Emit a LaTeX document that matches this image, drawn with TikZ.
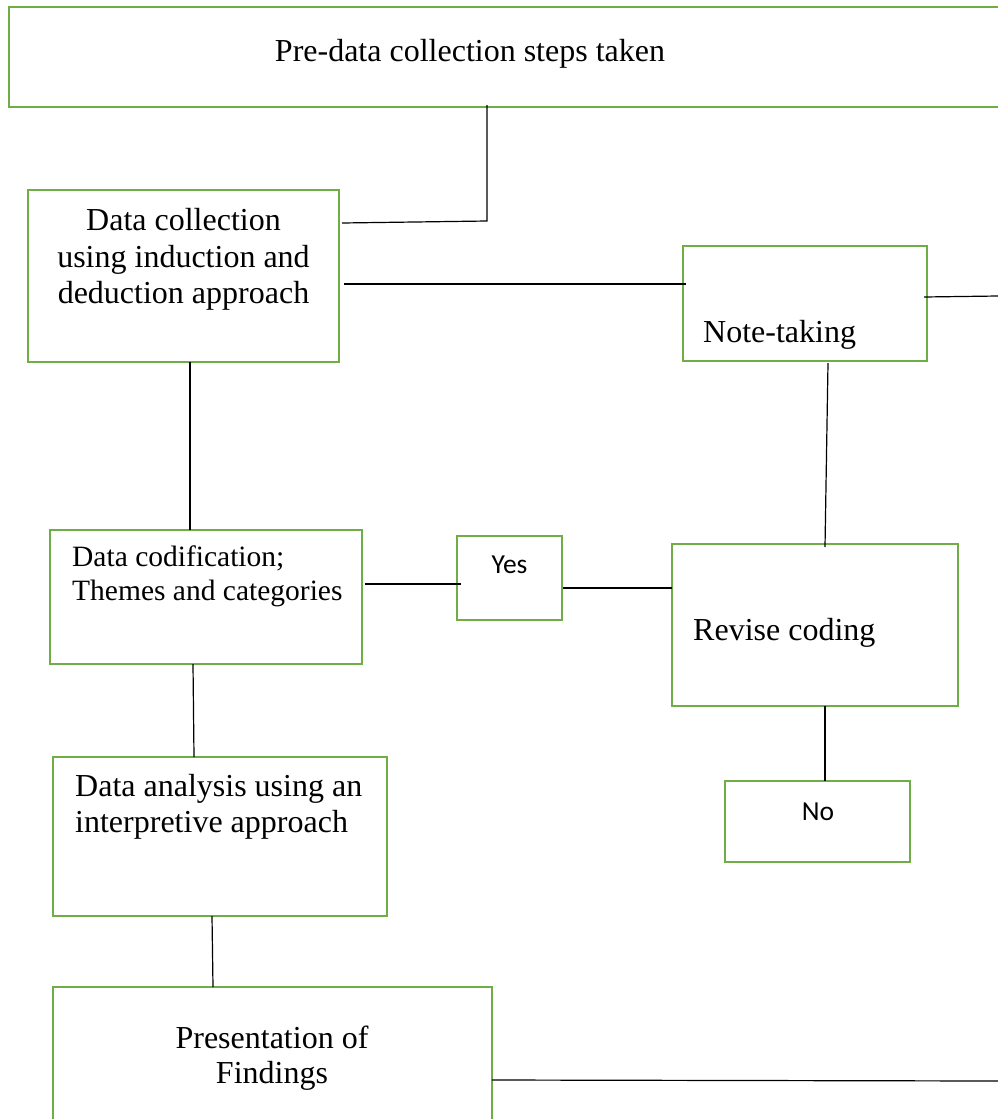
\documentclass[tikz,border=0pt]{standalone}
\usepackage{fontspec}
\setmainfont{Liberation Serif}
\newfontfamily\calibrifont{Carlito}
\usetikzlibrary{calc}
\definecolor{boxgreen}{HTML}{70AD47}
\tikzset{
  box/.style={draw=boxgreen, line width=2.4pt, rectangle, inner sep=0pt, outer sep=0pt, anchor=north west},
  conn/.style={draw=black, line width=1.2pt},
  serifbig/.style={inner sep=0pt, font=\fontsize{32}{36.8}\selectfont},
  serifmid/.style={inner sep=0pt, font=\fontsize{29.5}{35}\selectfont},
  sanslabel/.style={inner sep=0pt, font=\calibrifont\fontsize{27.5}{33}\selectfont}
}
\begin{document}
\begin{tikzpicture}[x=1pt,y=-1pt]
\useasboundingbox (0,0) rectangle (998,1119);
\clip (0,0) rectangle (998,1119);
% boxes
\node[box, minimum width=1011pt, minimum height=100pt] (pre) at (9,7) {};
\node[box, minimum width=311pt, minimum height=172pt] (dc) at (28,190) {};
\node[box, minimum width=244pt, minimum height=115pt] (note) at (683,246) {};
\node[box, minimum width=312pt, minimum height=134pt] (codif) at (50,530) {};
\node[box, minimum width=105pt, minimum height=84pt] (yes) at (457,536) {};
\node[box, minimum width=286pt, minimum height=162pt] (revise) at (672,544) {};
\node[box, minimum width=185pt, minimum height=81pt] (no) at (725,781) {};
\node[box, minimum width=334pt, minimum height=159pt] (ana) at (53,757) {};
\node[box, minimum width=439pt, minimum height=153pt] (pres) at (53,987) {};
% texts
\node[serifbig, anchor=base] (tpre) at (470,61) {Pre-data collection steps taken};
\node[serifbig, anchor=base] (tdc1) at (183.5,230) {Data collection};
\node[serifbig, anchor=base] (tdc2) at (183.5,267) {using induction and};
\node[serifbig, anchor=base] (tdc3) at (183.5,303) {deduction approach};
\node[serifbig, anchor=base west] (tnote) at (703,342) {Note-taking};
\node[serifmid, anchor=base west] (tcod1) at (72,566) {Data codification;};
\node[serifmid, anchor=base west] (tcod2) at (72,600) {Themes and categories};
\node[sanslabel, anchor=base] (tyes) at (509.5,573) {Yes};
\node[serifbig, anchor=base west] (trev) at (693,640) {Revise coding};
\node[sanslabel, anchor=base] (tno) at (818,820) {No};
\node[serifbig, anchor=base west] (tana1) at (75,796) {Data analysis using an};
\node[serifbig, anchor=base west] (tana2) at (75,832) {interpretive approach};
\node[serifbig, anchor=base] (tpres1) at (272,1048) {Presentation of};
\node[serifbig, anchor=base] (tpres2) at (272,1083) {Findings};
% free ends
\coordinate (c1) at (487,221);
\coordinate (r1) at (998,296);
\coordinate (r2) at (998,1081);
% connectors
\draw[conn] ($(pre.south west)+(478,-2)$) -- (c1) -- ($(dc.north east)+(3,33)$);
\draw[conn] ($(dc.north east)+(5,94)$) -- ($(note.north west)+(3,38)$);
\draw[conn] ($(note.north east)+(-3,51)$) -- (r1);
\draw[conn] ($(dc.south west)+(162,0)$) -- ($(codif.north west)+(140,0)$);
\draw[conn] ($(codif.north east)+(3,54)$) -- ($(yes.north west)+(4,48)$);
\draw[conn] ($(yes.north east)+(1,52)$) -- ($(revise.north west)+(0,44)$);
\draw[conn] ($(note.south west)+(145,2)$) -- ($(revise.north west)+(153,3)$);
\draw[conn] ($(revise.south west)+(153,0)$) -- ($(no.north west)+(100,0)$);
\draw[conn] ($(codif.south west)+(143,0)$) -- ($(ana.north west)+(141,0)$);
\draw[conn] ($(ana.south west)+(159,0)$) -- ($(pres.north west)+(160,0)$);
\draw[conn] ($(pres.north east)+(0,93)$) -- (r2);
\end{tikzpicture}
\end{document}
